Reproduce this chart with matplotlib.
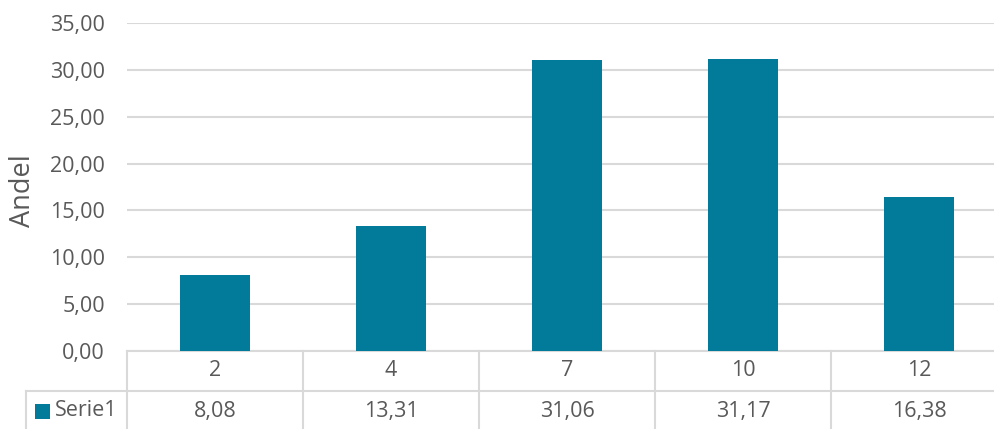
import matplotlib
matplotlib.use("Agg")
import matplotlib.pyplot as plt
from matplotlib.ticker import FuncFormatter, MultipleLocator

categories = ["2", "4", "7", "10", "12"]
values = [8.08, 13.31, 31.06, 31.17, 16.38]
series_name = "Serie1"
y_label = "Andel"

BAR = "#027A9A"
TXT = "#595959"
GRID = "#D9D9D9"
FONT = ["Open Sans", "DejaVu Sans"]
FS = 15.5
FS_LABEL = 19.5

plt.rcParams['font.family'] = FONT

W, H = 995, 429
fig = plt.figure(figsize=(W / 100, H / 100), dpi=100)
ax_left, ax_right, ax_top, ax_bot = 127, 1007, 23, 351
ax = fig.add_axes([ax_left / W, 1 - ax_bot / H, (ax_right - ax_left) / W, (ax_bot - ax_top) / H])

x = list(range(len(categories)))
ax.bar(x, values, width=0.4, color=BAR, zorder=3)
ax.set_xlim(-0.5, len(categories) - 0.5)
ax.set_ylim(0, 35)
ax.yaxis.set_major_locator(MultipleLocator(5))
ax.yaxis.set_major_formatter(FuncFormatter(lambda v, p: f"{v:.2f}".replace(".", ",")))
ax.grid(axis="y", color=GRID, linewidth=1.5, zorder=0)
for s in ax.spines.values():
    s.set_visible(False)
ax.tick_params(axis="y", length=0, pad=16, labelsize=FS, labelcolor=TXT)
ax.tick_params(axis="x", length=0, labelbottom=False)
ax.set_ylabel(y_label, fontsize=FS_LABEL, color=TXT)
ax.yaxis.label.set(ha="center", va="center", rotation_mode="default")
ax.yaxis.set_label_coords((23 - ax_left) / (ax_right - ax_left), (351 - 191) / (ax_bot - ax_top))

# data table below
ph = ax_bot - ax_top
row = 40 / ph
tr = ax.get_xaxis_transform()
lk = dict(color=GRID, linewidth=1.5, transform=tr, clip_on=False, zorder=2)
n = len(categories)
px = (ax_right - ax_left) / n
legend_left = -0.5 - (ax_left - 26) / px
# horizontal lines
ax.plot([-0.5, n - 0.5], [0, 0], **lk)
ax.plot([legend_left, n - 0.5], [-row, -row], **lk)
ax.plot([legend_left, n - 0.5], [-2 * row, -2 * row], **lk)
# vertical lines
for b in range(n + 1):
    ax.plot([b - 0.5, b - 0.5], [0, -2 * row], **lk)
ax.plot([legend_left, legend_left], [-row, -2 * row], **lk)

for i, (c, v) in enumerate(zip(categories, values)):
    ax.text(i, -row / 2, c, transform=tr, ha="center", va="center", fontsize=FS, color=TXT, clip_on=False)
    ax.text(i, -1.5 * row, f"{v:.2f}".replace(".", ","), transform=tr, ha="center", va="center",
            fontsize=FS, color=TXT, clip_on=False)

# legend key and name
kx0 = -0.5 - (ax_left - 35) / px
kx1 = -0.5 - (ax_left - 50) / px
ax.fill_between([kx0, kx1], [-1.5 * row - 7.5 / ph] * 2, [-1.5 * row + 7.5 / ph] * 2,
                color=BAR, transform=tr, clip_on=False, linewidth=0)
ax.text(-0.5 - (ax_left - 55) / px, -1.5 * row, series_name, transform=tr, ha="left", va="center",
        fontsize=FS, color=TXT, clip_on=False)

fig.savefig("out.png", dpi=100)
